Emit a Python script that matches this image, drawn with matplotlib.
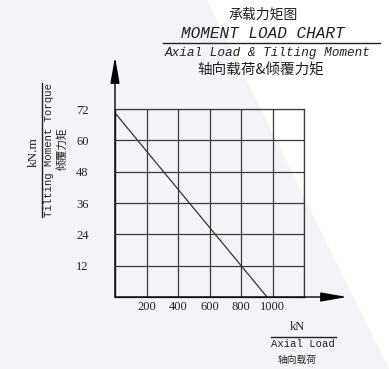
import matplotlib
matplotlib.use("Agg")
import matplotlib.pyplot as plt
from matplotlib.patches import Polygon
from matplotlib.lines import Line2D

# data
axial_load = [0, 965]          # kN
tilting_moment = [70.5, 0]     # kN.m
x_grid = [0, 200, 400, 600, 800, 1000, 1200]
x_labels = ["", "200", "400", "600", "800", "1000", ""]
y_grid = [0, 12, 24, 36, 48, 60, 72]
y_labels = ["", "12", "24", "36", "48", "60", "72"]

W, H = 389, 369
BG = "#f3f4f8"
INK = "#222222"
CJK = ["Noto Sans CJK SC", "DejaVu Sans"]
MONO = "Liberation Mono"
SERIF = "Liberation Serif"


def px(x, y):
    # pixel position -> figure fraction
    return x / W, 1 - y / H


def draw_background(fig):
    fig.patch.set_facecolor(BG)
    tri = Polygon([px(207, 0), px(389, 0), px(389, 369)], closed=True,
                  transform=fig.transFigure, facecolor="white",
                  edgecolor="none", zorder=-1)
    fig.patches.append(tri)


def draw_titles(fig):
    fig.text(*px(263, 15), "承载力矩图", family=CJK, fontsize=10,
             ha="center", va="center", color=INK)
    fig.text(*px(263, 33), "MOMENT LOAD CHART", family=MONO, style="italic",
             fontsize=11.5, ha="center", va="center", color=INK)
    x0, y0 = px(163, 43)
    x1, _ = px(380, 43)
    fig.lines.append(Line2D([x0, x1], [y0, y0], transform=fig.transFigure,
                            color=INK, lw=1))
    fig.text(*px(268, 53), "Axial Load & Tilting Moment", family=MONO,
             style="italic", fontsize=9.2, ha="center", va="center", color=INK)
    fig.text(*px(261, 70), "轴向载荷&倾覆力矩", family=CJK, fontsize=10.5,
             ha="center", va="center", color=INK)


def draw_axis_titles(fig):
    # y axis title (rotated)
    fig.text(*px(34, 152), "kN.m", family=SERIF, fontsize=9.5, rotation=90,
             ha="center", va="center", color=INK)
    x0, y0 = px(42, 83)
    _, y1 = px(42, 217)
    fig.lines.append(Line2D([x0, x0], [y0, y1], transform=fig.transFigure,
                            color=INK, lw=1))
    fig.text(*px(49, 150), "Tilting Moment Torque", family=MONO, fontsize=7.7,
             rotation=90, ha="center", va="center", color=INK)
    fig.text(*px(62, 149), "倾覆力矩", family=CJK, fontsize=7.7, rotation=90,
             ha="center", va="center", color=INK)

    # x axis title
    fig.text(*px(297, 327), "kN", family=SERIF, fontsize=9,
             ha="center", va="center", color=INK)
    x0, y0 = px(271, 337)
    x1, _ = px(336, 337)
    fig.lines.append(Line2D([x0, x1], [y0, y0], transform=fig.transFigure,
                            color=INK, lw=1))
    fig.text(*px(303, 344), "Axial Load", family=MONO, fontsize=7.7,
             ha="center", va="center", color=INK)
    fig.text(*px(297, 360), "轴向载荷", family=CJK, fontsize=7,
             ha="center", va="center", color=INK)


def draw_chart(fig):
    left, bottom = px(115, 297)
    right, top = px(304, 109)
    ax = fig.add_axes([left, bottom, right - left, top - bottom])
    ax.set_zorder(2)
    ax.patch.set_alpha(0)

    ax.plot(axial_load, tilting_moment, color="#333333", lw=0.9)

    ax.set_xlim(x_grid[0], x_grid[-1])
    ax.set_ylim(y_grid[0], y_grid[-1])
    ax.set_xticks(x_grid)
    ax.set_xticklabels(x_labels, family=SERIF, fontsize=9, color=INK)
    ax.set_yticks(y_grid)
    ax.set_yticklabels(y_labels, family=SERIF, fontsize=9, color=INK)
    ax.tick_params(length=0)
    ax.tick_params(axis="x", pad=3)
    ax.tick_params(axis="y", pad=19)
    ax.grid(True, color="#3a3a3a", lw=0.9)
    for s in ax.spines.values():
        s.set_color("#3a3a3a")
        s.set_linewidth(0.9)

    # axis arrows
    arrow = dict(arrowstyle="-|>,head_length=0.8,head_width=0.14",
                 color="black", lw=1, mutation_scale=20,
                 shrinkA=0, shrinkB=0)
    ax.annotate("", xy=(0, 1.277), xytext=(0, 0), xycoords="axes fraction",
                arrowprops=arrow, annotation_clip=False)
    ax.annotate("", xy=(1.228, 0), xytext=(0, 0), xycoords="axes fraction",
                arrowprops=arrow, annotation_clip=False)
    return ax


def main():
    fig = plt.figure(figsize=(W / 100, H / 100), dpi=100)
    draw_background(fig)
    draw_chart(fig)
    draw_titles(fig)
    draw_axis_titles(fig)
    fig.savefig("out.png", dpi=100, facecolor=fig.get_facecolor())


if __name__ == "__main__":
    main()
